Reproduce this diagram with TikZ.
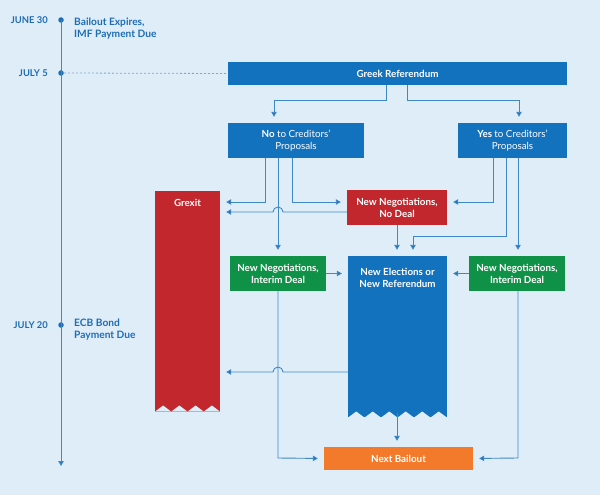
\documentclass[tikz,border=0pt]{standalone}
\usepackage{fontspec}
\setmainfont{Lato}
\usetikzlibrary{arrows.meta,calc}
\definecolor{bgc}{HTML}{DFEDF8}
\definecolor{bblue}{HTML}{1272BD}
\definecolor{bred}{HTML}{C1272D}
\definecolor{bgreen}{HTML}{0F9248}
\definecolor{borange}{HTML}{F37A2B}
\definecolor{linec}{HTML}{3F88C8}
\definecolor{tipc}{HTML}{1A6DB6}
\definecolor{tlc}{HTML}{1E6DB4}
\definecolor{dashc}{HTML}{7FA6CC}
\tikzset{
  box/.style={fill=#1, text=white, font=\bfseries\fontsize{9.8}{12}\selectfont, align=center, inner sep=0pt},
  btext/.style={text=white, font=\bfseries\fontsize{9.8}{12}\selectfont, align=center, inner sep=0pt},
  conn/.style={draw=linec, line width=0.9pt, shorten >=6pt, -{Triangle[length=5pt,width=5.5pt,fill=tipc]}},
  tldot/.style={circle, fill=tlc, minimum size=5.5pt, inner sep=0pt},
  tlab/.style={text=tlc, font=\bfseries\fontsize{9.4}{11}\selectfont, inner sep=0pt, anchor=east},
  tev/.style={text=tlc, font=\bfseries\fontsize{10.2}{12}\selectfont, inner sep=0pt, anchor=west, align=left},
}
\begin{document}
\begin{tikzpicture}[x=1pt,y=-1pt]
\fill[bgc] (0,0) rectangle (600,495);
\useasboundingbox (0,0) rectangle (600,495);

% timeline
\node[tldot] (d1) at (61,20) {};
\node[tldot] (d2) at (61,73) {};
\node[tldot] (d3) at (61,325) {};
\coordinate (tlend) at (61,466);
\draw[draw=linec, line width=1pt, -{Triangle[length=5pt,width=5.5pt,fill=tipc]}] (d1.center) -- (tlend);
\node[tlab] (l1) at (48,20) {JUNE 30};
\node[tlab] (l2) at (48,73) {JULY 5};
\node[tlab] (l3) at (48,325) {JULY 20};
\node[tev] (e1) at (74,29) {Bailout Expires,\\IMF Payment Due};
\node[tev] (e3) at (74,330) {ECB Bond\\Payment Due};

% boxes
\node[box=bblue, minimum width=339pt, minimum height=23pt] (gr) at (397.5,73.5) {Greek Referendum};
\draw[dashc, line width=0.8pt, dash pattern=on 2pt off 2pt] (d2.east) -- (gr.west);
\node[box=bblue, minimum width=136pt, minimum height=35pt] (no) at (296,140.5) {No {\mdseries to Creditors’}\\{\mdseries Proposals}};
\node[box=bblue, minimum width=109pt, minimum height=35pt] (yes) at (512.5,140.5) {Yes {\mdseries to Creditors’}\\{\mdseries Proposals}};
\node[box=bred, minimum width=100pt, minimum height=35pt] (nd) at (397,207.5) {New Negotiations,\\No Deal};
\node[box=bgreen, minimum width=96pt, minimum height=35pt] (li) at (278,273.5) {New Negotiations,\\Interim Deal};
\node[box=bgreen, minimum width=96pt, minimum height=35pt] (ri) at (517,273.5) {New Negotiations,\\Interim Deal};
\node[box=borange, minimum width=149pt, minimum height=23pt] (nb) at (398.5,458.5) {Next Bailout};

% Grexit tall box with zigzag bottom
\node[box=bred, minimum width=65pt, minimum height=221pt] (gx) at (187.5,301) {};
\foreach \k in {0,...,3} {
  \fill[bgc] ({155+16.25*\k},411.6) -- ({155+16.25*\k+8.125},405.5) -- ({155+16.25*(\k+1)},411.6) -- cycle;
}
\node[btext] (gxT) at (187.5,203) {Grexit};

% New Elections tall box with zigzag bottom
\node[box=bblue, minimum width=99pt, minimum height=161pt] (ne) at (397.5,336.5) {};
\foreach \k in {0,...,5} {
  \fill[bgc] ({348+16.5*\k},417.6) -- ({348+16.5*\k+8.25},411.5) -- ({348+16.5*(\k+1)},417.6) -- cycle;
}
\node[btext] (neT) at (397.5,278) {New Elections or\\New Referendum};

% connectors
\draw[conn] (386,0 |- gr.south) -- (386,100) -- (274,100) -- (274,0 |- no.north);
\draw[conn] (407,0 |- gr.south) -- (407,100) -- (519,100) -- (519,0 |- yes.north);

\draw[conn] (265,0 |- no.south) -- (265,202) -- (gx.east |- 0,202);
\draw[conn] (292,0 |- no.south) -- (292,202) -- (nd.west |- 0,202);
\draw[conn] (278,0 |- no.south) -- (li.north);
\draw[conn] (nd.west |- 0,212) -- (283,212) arc[start angle=0,end angle=180,radius=5pt] -- (gx.east |- 0,212);

\draw[conn] (493,0 |- yes.south) -- (493,202) -- (nd.east |- 0,202);
\draw[conn] (506,0 |- yes.south) -- (506,236) -- (413,236) -- (413,0 |- ne.north);
\draw[conn] (518,0 |- yes.south) -- (518,0 |- ri.north);

\draw[conn] (nd.south) -- (nd.south |- ne.north);
\draw[conn] (li.east) -- (ne.west |- li.east);
\draw[conn] (ri.west) -- (ne.east |- ri.west);

\draw[conn] (li.south) -- (278,458) -- (nb.west);
\draw[conn] (518,0 |- ri.south) -- (518,458) -- (nb.east);
\draw[conn] (ne.west |- 0,372) -- (283,372) arc[start angle=0,end angle=180,radius=5pt] -- (gx.east |- 0,372);
\draw[conn] (397,413) -- (397,0 |- nb.north);
\end{tikzpicture}
\end{document}
